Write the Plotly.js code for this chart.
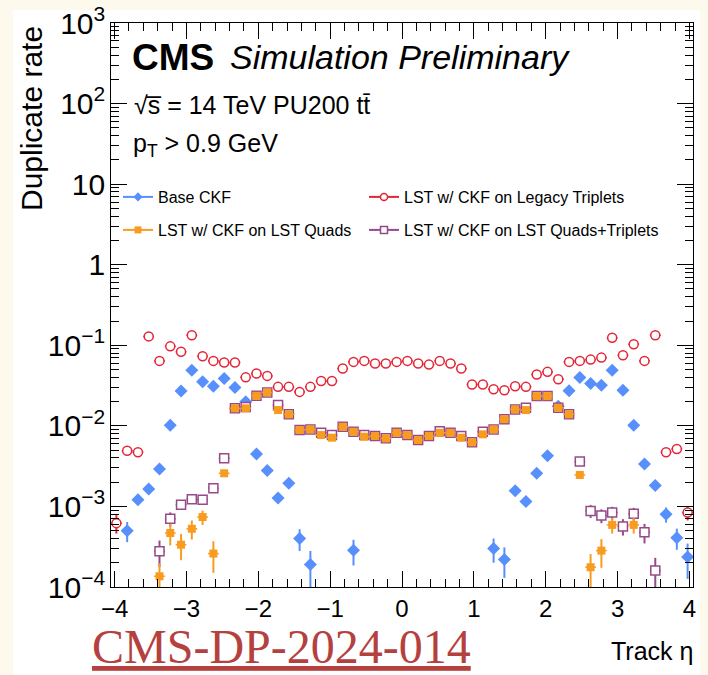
<!DOCTYPE html>
<html><head><meta charset="utf-8">
<script src="https://cdn.plot.ly/plotly-3.0.1.min.js"></script>
<style>html,body{margin:0;padding:0;background:#fef9ed;}#chart{width:708px;height:675px;}</style>
</head><body><div id="chart"></div>
<script>
// Track eta bin centres (bin width 0.15, -4.05 .. 4.05)
const eta = [-3.975,-3.825,-3.675,-3.525,-3.375,-3.225,-3.075,-2.925,-2.775,-2.625,-2.475,-2.325,-2.175,-2.025,-1.875,-1.725,-1.575,-1.425,-1.275,-1.125,-0.975,-0.825,-0.675,-0.525,-0.375,-0.225,-0.075,0.075,0.225,0.375,0.525,0.675,0.825,0.975,1.125,1.275,1.425,1.575,1.725,1.875,2.025,2.175,2.325,2.475,2.625,2.775,2.925,3.075,3.225,3.375,3.525,3.675,3.825,3.975];

const baseCKF = [null,5.0e-4,1.21e-3,1.64e-3,2.92e-3,0.0102,0.027,0.049,0.0352,0.031,0.0386,0.0299,0.0199,4.48e-3,2.79e-3,1.27e-3,1.94e-3,4.0e-4,1.9e-4,null,null,null,2.85e-4,null,null,null,null,null,null,null,null,null,null,null,null,3.0e-4,2.2e-4,1.56e-3,1.15e-3,2.58e-3,4.27e-3,0.0175,0.0272,0.0398,0.0336,0.032,0.049,0.0277,0.0102,3.37e-3,1.82e-3,8.0e-4,4.1e-4,2.36e-4];
const baseCKFErr = [0,1.4e-4,1.6e-4,1.8e-4,2.5e-4,0,0,0,0,0,0,0,0,4e-4,3e-4,1.8e-4,2e-4,1.2e-4,9e-5,0,0,0,1e-4,0,0,0,0,0,0,0,0,0,0,0,0,1e-4,9e-5,1.8e-4,1.5e-4,2.5e-4,3e-4,0,0,0,0,0,0,0,0,3.5e-4,2.2e-4,1.7e-4,1.2e-4,1.1e-4];

const legacyTriplets = [6.2e-4,4.9e-3,4.7e-3,0.129,0.064,0.097,0.083,0.133,0.073,0.064,0.061,0.061,0.040,0.0446,0.0417,0.0305,0.0305,0.0264,0.0305,0.0361,0.0361,0.0514,0.0622,0.064,0.0593,0.0593,0.0622,0.064,0.0593,0.0576,0.064,0.0593,0.0514,0.0326,0.0326,0.0285,0.0277,0.031,0.0305,0.0434,0.0468,0.0379,0.0622,0.064,0.0664,0.0703,0.124,0.0752,0.103,0.064,0.133,4.7e-3,5.16e-3,8.4e-4];
const legacyTripletsErr = [1.6e-4,3e-4,3e-4,0,0,0,0,0,0,0,0,0,0,0,0,0,0,0,0,0,0,0,0,0,0,0,0,0,0,0,0,0,0,0,0,0,0,0,0,0,0,0,0,0,0,0,0,0,0,0,0,3e-4,3e-4,1.7e-4];

const lstQuads = [null,null,null,null,1.36e-4,4.68e-4,3.35e-4,5.28e-4,7.38e-4,2.6e-4,2.58e-3,0.0165,0.0165,0.0236,0.026,0.0157,0.0139,0.00887,0.00903,0.00769,0.00713,0.00975,0.00845,0.00734,0.00748,0.0070,0.0082,0.00769,0.00667,0.00748,0.0082,0.0082,0.00713,0.00625,0.00785,0.00903,0.0121,0.016,0.0157,0.0234,0.0234,0.0168,0.0139,2.46e-3,1.76e-4,2.83e-4,5.9e-4,null,5.9e-4,null,null,null,null,null];
const lstQuadsErr = [0,0,0,0,6e-5,1.4e-4,1.2e-4,1.4e-4,1.5e-4,1.1e-4,2.5e-4,0,0,0,0,0,0,0,0,0,0,0,0,0,0,0,0,0,0,0,0,0,0,0,0,0,0,0,0,0,0,0,0,2.5e-4,8e-5,1.1e-4,1.3e-4,0,1.3e-4,0,0,0,0,0];

const lstQuadsTriplets = [null,null,null,null,2.77e-4,7.03e-4,1.05e-3,1.23e-3,1.21e-3,1.68e-3,3.96e-3,0.0165,0.0172,0.0236,0.026,0.0181,0.0139,0.0089,0.00903,0.00822,0.00769,0.00975,0.00845,0.00769,0.00748,0.0070,0.0082,0.00769,0.00667,0.00748,0.0086,0.0082,0.00748,0.00625,0.00845,0.00903,0.0121,0.016,0.0168,0.0234,0.0234,0.0168,0.0139,3.6e-3,8.8e-4,7.7e-4,8.4e-4,5.65e-4,8.1e-4,4.77e-4,1.6e-4,null,null,null];
const lstQuadsTripletsErr = [0,0,0,0,1e-4,1.4e-4,1.2e-4,1.3e-4,1.3e-4,1.5e-4,3e-4,0,0,0,0,0,0,0,0,0,0,0,0,0,0,0,0,0,0,0,0,0,0,0,0,0,0,0,0,0,0,0,0,3e-4,1.6e-4,1.5e-4,1.5e-4,1.3e-4,1.5e-4,1.3e-4,7e-5,0,0,0];

const names = ['Base CKF','LST w/ CKF on Legacy Triplets','LST w/ CKF on LST Quads','LST w/ CKF on LST Quads+Triplets'];
const colors = ['#5790fc','#e42536','#f89c20','#964a8b'];

function series(y, err, color, marker){
  return {x:eta, y:y, type:'scatter', mode:'markers', showlegend:false, cliponaxis:true,
    marker:marker,
    error_y:{type:'data', array:err, visible:true, color:color, thickness:2, width:0},
    error_x:{type:'constant', value:0.075, visible:true, color:color, thickness:1.5, width:0}};
}
const mBlue = {symbol:'diamond', size:10, color:colors[0], line:{width:0}};
const mRed = {symbol:'circle', size:9, color:'white', line:{color:colors[1], width:1.5}};
const mOrange = {symbol:'square', size:8, color:colors[2], line:{width:0}};
const mPurple = {symbol:'square', size:9, color:'white', line:{color:colors[3], width:1.5}};

function legendEntry(name, color, marker, leg){
  return {x:[null], y:[null], type:'scatter', mode:'lines+markers', name:name, legend:leg,
    line:{color:color, width:2}, marker:Object.assign({}, marker, {size:7})};
}

const data = [
  series(baseCKF, baseCKFErr, colors[0], mBlue),
  series(legacyTriplets, legacyTripletsErr, colors[1], mRed),
  series(lstQuadsTriplets, lstQuadsTripletsErr, colors[3], mPurple),
  series(lstQuads, lstQuadsErr, colors[2], mOrange),
  legendEntry(names[0], colors[0], mBlue, 'legend'),
  legendEntry(names[1], colors[1], mRed, 'legend2'),
  legendEntry(names[2], colors[2], mOrange, 'legend3'),
  legendEntry(names[3], colors[3], mPurple, 'legend4')
];

const FONT = 'Liberation Sans, Arial, Helvetica, sans-serif';
const L = 111, R = 693, T = 23, B = 587;
const px = v => (v - L) / (R - L);
const py = v => (B - v) / (B - T);

const legBase = {xanchor:'left', yanchor:'middle', orientation:'v',
  bgcolor:'rgba(0,0,0,0)', borderwidth:0, font:{family:FONT, size:16, color:'black'}, itemwidth:30};

const layout = {
  width:708, height:675,
  margin:{l:L, r:708-R, t:T, b:675-B, pad:0},
  paper_bgcolor:'#fef9ed', plot_bgcolor:'white',
  font:{family:FONT, color:'black'},
  showlegend:true,
  xaxis:{range:[-4.05,4.05], tick0:0, dtick:1, ticks:'inside', ticklen:16, tickwidth:1, tickcolor:'black',
    showline:true, linecolor:'black', linewidth:1, mirror:'allticks', showgrid:false, zeroline:false,
    tickfont:{family:FONT, size:24},
    minor:{tick0:0, dtick:0.2, ticks:'inside', ticklen:8, tickwidth:1, tickcolor:'black', showgrid:false}},
  yaxis:{type:'log', range:[-4,3], dtick:1, exponentformat:'power', ticks:'inside', ticklen:16, tickwidth:1, tickcolor:'black',
    showline:true, linecolor:'black', linewidth:1, mirror:'allticks', showgrid:false, zeroline:false,
    tickfont:{family:FONT, size:24},
    minor:{dtick:'D1', ticks:'inside', ticklen:8, tickwidth:1, tickcolor:'black', showgrid:false}},
  legend:Object.assign({}, legBase, {x:px(118), y:py(197)}),
  legend2:Object.assign({}, legBase, {x:px(364), y:py(197)}),
  legend3:Object.assign({}, legBase, {x:px(118), y:py(230)}),
  legend4:Object.assign({}, legBase, {x:px(364), y:py(230)}),
  shapes:[{type:'rect', xref:'paper', yref:'paper', x0:px(13), x1:px(700), y0:py(675), y1:py(10),
    fillcolor:'white', line:{width:0}, layer:'below'}],
  annotations:[
    {text:'<b>CMS</b>', xref:'paper', yref:'paper', x:px(130), y:py(57), xanchor:'left', yanchor:'middle', showarrow:false, font:{family:FONT, size:37}},
    {text:'<i>Simulation Preliminary</i>', xref:'paper', yref:'paper', x:px(228), y:py(57), xanchor:'left', yanchor:'middle', showarrow:false, font:{family:FONT, size:34}},
    {text:'\u221As\u0305 = 14 TeV PU200 tt\u0304', xref:'paper', yref:'paper', x:px(132), y:py(105), xanchor:'left', yanchor:'middle', showarrow:false, font:{family:FONT, size:25}},
    {text:'p<sub>T</sub> &gt; 0.9 GeV', xref:'paper', yref:'paper', x:px(131), y:py(145), xanchor:'left', yanchor:'middle', showarrow:false, font:{family:FONT, size:25}},
    {text:'Duplicate rate', xref:'paper', yref:'paper', x:px(31), y:py(119), xanchor:'center', yanchor:'middle', textangle:-90, showarrow:false, font:{family:FONT, size:30}},
    {text:'Track \u03B7', xref:'paper', yref:'paper', x:px(695), y:py(651), xanchor:'right', yanchor:'middle', showarrow:false, font:{family:FONT, size:25}},
    {text:'<u>CMS-DP-2024-014</u>', xref:'paper', yref:'paper', x:px(281), y:py(646), xanchor:'center', yanchor:'middle', showarrow:false, font:{family:'Liberation Serif, Times New Roman, serif', size:48, color:'#b5413f'}}
  ]
};

Plotly.newPlot('chart', data, layout, {displayModeBar:false, staticPlot:true});
</script></body></html>
